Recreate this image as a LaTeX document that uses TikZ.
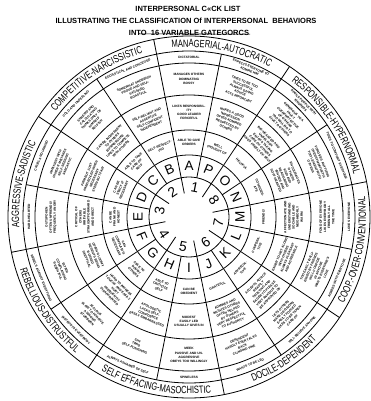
\documentclass[tikz,border=0pt]{standalone}
\usepackage{fontspec}
\setmainfont{Liberation Sans}
\newfontfamily\octfont[FakeStretch=0.72]{Liberation Sans}
\usetikzlibrary{decorations.text}

\begin{document}
\begin{tikzpicture}[x=1pt,y=1pt]
        \tikzstyle{cell}=[inner sep=0pt, align=center, font=\bfseries\fontsize{3.2}{4.1}\selectfont]
        \tikzstyle{letter}=[inner sep=0pt, font=\fontsize{13.5}{14}\selectfont]
        \tikzstyle{num}=[inner sep=0pt, font=\fontsize{14}{14}\selectfont]
        \tikzstyle{rim}=[line width=0.8pt]
        \tikzstyle{heading}=[inner sep=0pt, font=\bfseries\fontsize{7.5}{8}\selectfont]
        \tikzset{octlabel/.style={decorate, decoration={text along path, text align=center,
            text={|\octfont\fontsize{10.5}{11}\selectfont|#1}}}}

        \useasboundingbox (0,0) rectangle (370,401);

        \node[heading](title1) at (188,392){INTERPERSONAL C«CK LIST};
        \node[heading](title2) at (186,380){ILLUSTRATING THE CLASSIFICATION Of INTERPERSONAL\ \ BEHAVIORS};
        \node[heading](title3) at (189,368){INTO\ \ 16 VARIABLE GATEGORCS};
        \draw[line width=0.6pt] (138,367.2) -- (250,366.8);

        \begin{scope}[shift={(189,184)}]
            % rings
            \foreach \rad in {40,62,87,122,154,166,181}
            \draw[rim] (0,0) circle[radius=\rad pt];

            % octant borders and letter borders
            \foreach \ang in {11.25,56.25,...,326.25}
            \draw[rim] (\ang:24pt) -- (\ang:181pt);
            \foreach \ang in {33.75,78.75,...,348.75}
            \draw[rim] (\ang:40pt) -- (\ang:166pt);

            % numbers and letters
            \foreach \k/\ang/\rot in {1/78.75/-11.25, 2/123.75/33.75, 3/168.75/78.75, 4/213.75/303.75,
                5/258.75/348.75, 6/303.75/33.75, 7/348.75/78.75, 8/33.75/-56.25}
            \node[num, rotate=\rot](n\k) at (\ang:30pt){\k};

            \foreach \lab/\ang/\rot in {A/90/0, B/112.5/22.5, C/135/45, D/157.5/67.5, E/180/90,
                F/202.5/292.5, G/225/315, H/247.5/337.5, I/270/0, J/292.5/22.5, K/315/45,
                L/337.5/67.5, M/360/90, N/22.5/-67.5, O/45/-45, P/67.5/-22.5}
            \node[letter, rotate=\rot](\lab) at (\ang:51pt){\lab};

            % check list items, intensity 1 to 4 from the inside out
            \foreach \n/\ang/\rot/\ta/\tb/\tc/\td in {
                A/90/0/{ABLE TO GIVE\\ORDERS}/{LIKES RESPONSIBIL-\\ITY\\GOOD LEADER\\FORCEFUL}/{MANAGES OTHERS\\DOMINATING\\BOSSY}/{DICTATORIAL},
                P/67.5/-22.5/{WELL\\THOUGHT OF}/{MAKES A GOOD\\IMPRESSION\\OFTEN ADMIRED\\RESPECTED BY\\OTHERS}/{TRIES TO BE TOO\\SUCCESSFUL\\ALWAYS GIVING\\ADVICE\\ACTS IMPORTANT}/{EXPECTS EVERYONE TO\\ADMIRE HIM},
                B/112.5/22.5/{SELF-RESPECT-\\ING}/{SELF-RELIANT AND\\ASSERTIVE\\SELF-CONFIDENT\\INDEPENDENT}/{SOMEWHAT SNOBBISH\\PROUD AND SELF-\\SATISFIED\\BOASTFUL}/{EGOTISTICAL AND CONCEITED},
                C/135/45/{ABLE TO TAKE\\CARE OF\\SELF}/{CAN BE INDIFFERENT\\TO OTHERS\\BUSINESSLIKE\\LIKES TO COMPETE\\WITH OTHERS}/{SHREWD AND\\CALCULATING\\THINKS ONLY OF\\HIMSELF\\SELFISH}/{COLD AND UNFEELING},
                D/157.5/67.5/{CAN BE\\STRICT IF\\NECESSARY}/{FIRM BUT JUST\\HARD-BOILED WHEN\\NECESSARY\\STERN BUT FAIR}/{IMPATIENT WITH\\OTHERS' MISTAKES\\SELF-SEEKING\\SARCASTIC}/{CRUEL AND UNKIND},
                E/180/90/{CAN BE\\FRANK AND\\HONEST}/{CRITICAL OF\\OTHERS\\IRRITABLE\\STRAIGHTFORWARD\\AND DIRECT}/{OUTSPOKEN\\OFTEN UNFRIENDLY\\FREQUENTLY ANGRY}/{HARD-HEARTED},
                F/202.5/292.5/{CAN\\COMPLAIN IF\\NECESSARY}/{OFTEN GLOOMY\\RESENTS BEING\\BOSSED\\SKEPTICAL}/{BITTER\\COMPLAINING\\RESENTFUL}/{REBELS AGAINST EVERYTHING},
                G/225/315/{ABLE TO\\DOUBT\\OTHERS}/{HARD TO IMPRESS\\TOUCHY AND EASILY\\HURT\\FREQUENTLY\\DISAPPOINTED}/{JEALOUS\\SLOW TO FORGIVE\\A WRONG\\STUBBORN}/{DISTRUSTS EVERYBODY},
                H/247.5/337.5/{ABLE TO\\CRITICIZE\\SELF}/{APOLOGETIC\\LACKS SELF-\\CONFIDENCE\\EASILY EMBARRASSED}/{SHY\\TIMID\\SELF-PUNISHING}/{ALWAYS ASHAMED OF SELF},
                I/270/0/{CAN BE\\OBEDIENT}/{MODEST\\EASILY LED\\USUALLY GIVES IN}/{MEEK\\PASSIVE AND UN-\\AGGRESSIVE\\OBEYS TOO WILLINGLY}/{SPINELESS},
                J/292.5/22.5/{GRATEFUL}/{ADMIRES AND\\IMITATES OTHERS\\OFTEN HELPED\\BY OTHERS\\VERY RESPECTFUL\\TO AUTHORITY}/{DEPENDENT\\HARDLY EVER TALKS\\BACK\\CLINGING VINE}/{WANTS TO BE LED},
                K/315/45/{APPRECIA-\\TIVE}/{ACCEPTS ADVICE\\READILY\\TRUSTING AND\\EAGER TO PLEASE\\VERY ANXIOUS TO\\BE APPROVED OF}/{LETS OTHERS\\MAKE DECISIONS\\EASILY FOOLED\\LIKES TO BE TAKEN\\CARE OF}/{WILL BELIEVE ANYONE},
                L/337.5/67.5/{COOPERA-\\TIVE}/{EAGER TO GET ALONG\\WITH OTHERS\\ALWAYS PLEASANT\\AND AGREEABLE}/{TOO EASILY INFLU-\\ENCED BY FRIENDS\\WILL CONFIDE\\IN ANYONE\\WANTS EVERYONE'S\\LOVE}/{AGREES WITH EVERYONE},
                M/360/90/{FRIENDLY}/{AFFECTIONATE AND\\UNDERSTANDING\\SOCIABLE AND\\NEIGHBORLY\\WARM}/{FOND OF EVERYONE\\LIKES EVERYBODY\\FRIENDLY ALL\\THE TIME}/{LOVES EVERYONE},
                N/22.5/-67.5/{CONSIDER-\\ATE}/{ENCOURAGES\\OTHERS\\KIND AND\\REASSURING\\TENDER AND\\SOFT-HEARTED}/{FORGIVES ANYTHING\\OVERSYMPATHETIC\\TOO LENIENT WITH\\OTHERS}/{TRIES TO COMFORT EVERYONE},
                O/45/-45/{HELPFUL}/{BIG-HEARTED AND\\UNSELFISH\\ENJOYS TAKING\\CARE OF OTHERS\\GIVES FREELY OF SELF}/{GENEROUS TO A\\FAULT\\OVERPROTECTIVE\\OF OTHERS\\TOO WILLING TO\\GIVE TO OTHERS}/{SPOILS PEOPLE WITH\\KINDNESS}}
            {
                \node[cell, rotate=\rot](\n1) at (\ang:74.5pt){\ta};
                \node[cell, rotate=\rot](\n2) at (\ang:104.5pt){\tb};
                \node[cell, rotate=\rot](\n3) at (\ang:138pt){\tc};
                \node[cell, rotate=\rot](\n4) at (\ang:160pt){\td};
            }

            % octant names
            \path[octlabel={RESPONSIBLE-HYPERNORMAL}] (56.25:170pt) arc[start angle=56.25, end angle=11.25, radius=170pt];
            \path[octlabel={MANAGERIAL-AUTOCRATIC}] (101.25:170pt) arc[start angle=101.25, end angle=56.25, radius=170pt];
            \path[octlabel={COMPETITIVE-NARCISSISTIC}] (146.25:170pt) arc[start angle=146.25, end angle=101.25, radius=170pt];
            \path[octlabel={AGGRESSIVE-SADISTIC}] (191.25:170pt) arc[start angle=191.25, end angle=146.25, radius=170pt];
            \path[octlabel={REBELLIOUS-DISTRUSTFUL}] (191.25:177pt) arc[start angle=191.25, end angle=236.25, radius=177pt];
            \path[octlabel={SELF EFFACING-MASOCHISTIC}] (236.25:177pt) arc[start angle=236.25, end angle=281.25, radius=177pt];
            \path[octlabel={DOCILE-DEPENDENT}] (281.25:177pt) arc[start angle=281.25, end angle=326.25, radius=177pt];
            \path[octlabel={COOP.-OVER-CONVENTIONAL}] (326.25:177pt) arc[start angle=326.25, end angle=371.25, radius=177pt];
        \end{scope}

\end{tikzpicture}
\end{document}
